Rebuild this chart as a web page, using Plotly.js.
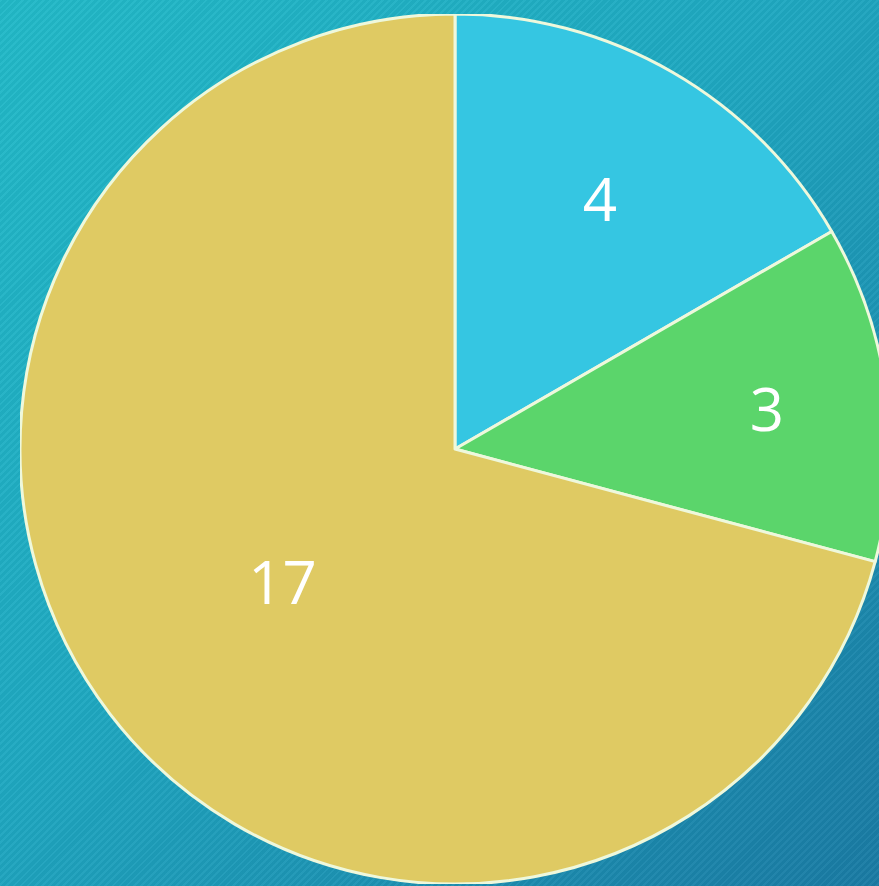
<!DOCTYPE html>
<html>
<head>
<meta charset="utf-8">
<script src="https://cdn.plot.ly/plotly-3.0.1.min.js"></script>
<style>
  html, body { margin:0; padding:0; width:879px; height:886px; overflow:hidden; }
  body {
    position: relative;
    background:
      repeating-linear-gradient(135deg, rgba(255,255,255,0.035) 0px, rgba(255,255,255,0.035) 2px, rgba(0,0,0,0.03) 2px, rgba(0,0,0,0.03) 5px),
      linear-gradient(135deg, #22bac8 0%, #1fa8c1 45%, #1a7ba4 100%);
  }
  #chart { position:absolute; left:20px; top:14px; width:870px; height:870px; }
</style>
</head>
<body>
<div id="chart"></div>
<script>
const labels = ["A", "B", "C"];
const values = [4, 3, 17];
const colors = ["#35c6e2", "#5bd56b", "#dfca63"];

Plotly.newPlot("chart", [{
  type: "pie",
  labels: labels,
  values: values,
  sort: false,
  direction: "clockwise",
  rotation: 0,
  textinfo: "value",
  textposition: "inside",
  insidetextorientation: "horizontal",
  textfont: { family: "Open Sans, sans-serif", size: 60, color: "#ffffff" },
  marker: { colors: colors, line: { color: "#eef8dc", width: 3 } },
  hoverinfo: "none"
}], {
  width: 870,
  height: 870,
  margin: { l: 0, r: 0, t: 0, b: 0, pad: 0 },
  showlegend: false,
  paper_bgcolor: "rgba(0,0,0,0)",
  plot_bgcolor: "rgba(0,0,0,0)"
}, { displayModeBar: false, staticPlot: true });
</script>
</body>
</html>
